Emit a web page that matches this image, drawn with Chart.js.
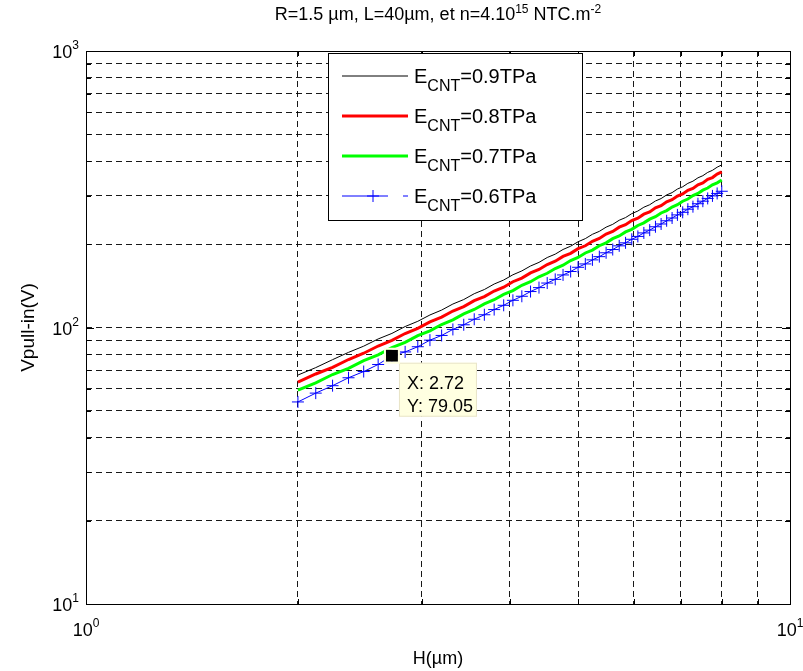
<!DOCTYPE html>
<html>
<head>
<meta charset="utf-8">
<script src="https://cdn.jsdelivr.net/npm/chart.js@4.4.0/dist/chart.umd.min.js"></script>
<style>
    html, body { margin: 0; padding: 0; background: #fff; }
    #wrap { width: 803px; height: 671px; }
</style>
</head>
<body>
<div id="wrap"><canvas id="myChart" width="803" height="671"></canvas></div>
<script>
// H (µm), pas de 0.12
var hValues = [2.00, 2.12, 2.24, 2.36, 2.48, 2.60, 2.72, 2.84, 2.96, 3.08,
    3.20, 3.32, 3.44, 3.56, 3.68, 3.80, 3.92, 4.04, 4.16, 4.28,
    4.40, 4.52, 4.64, 4.76, 4.88, 5.00, 5.12, 5.24, 5.36, 5.48,
    5.60, 5.72, 5.84, 5.96, 6.08, 6.20, 6.32, 6.44, 6.56, 6.68,
    6.80, 6.92, 7.04, 7.16, 7.28, 7.40, 7.52, 7.64, 7.76, 7.88, 8.00];

var v09 = [67.3, 71.6, 76.5, 81.3, 85.6, 90.9, 95.2, 100.8, 105.3, 111.0,
    115.6, 121.6, 126.2, 132.5, 137.2, 143.6, 148.5, 155.1, 160.2, 166.9,
    172.0, 179.1, 184.2, 191.5, 196.8, 204.2, 209.6, 217.3, 222.7, 230.6,
    236.1, 244.3, 249.8, 258.1, 263.8, 272.3, 278.0, 286.8, 292.6, 301.6,
    307.5, 316.8, 322.8, 332.1, 338.2, 347.8, 354.0, 363.8, 370.2, 380.0, 387.4];

var v08 = [63.5, 67.9, 71.8, 76.6, 80.7, 85.7, 89.8, 95.1, 99.3, 104.8,
    109.0, 114.7, 119.0, 125.0, 129.4, 135.5, 139.9, 146.4, 150.9, 157.5,
    162.1, 169.0, 173.6, 180.8, 185.4, 192.8, 197.5, 205.1, 209.8, 217.7,
    222.5, 230.6, 235.3, 243.6, 248.5, 257.0, 261.9, 270.8, 275.7, 284.7,
    289.7, 299.0, 304.1, 313.4, 318.6, 328.3, 333.4, 343.4, 348.6, 358.6, 365.3];

var v07 = [59.4, 63.1, 67.6, 71.2, 75.9, 79.6, 84.5, 88.3, 93.4, 97.3,
    102.5, 106.6, 112.0, 116.2, 121.8, 126.0, 131.7, 136.0, 142.1, 146.4,
    152.6, 157.1, 163.4, 168.0, 174.6, 179.2, 186.0, 190.6, 197.6, 202.4,
    209.6, 214.3, 221.6, 226.4, 233.9, 239.0, 246.6, 251.6, 259.5, 264.7,
    272.7, 278.0, 286.2, 291.5, 299.9, 305.4, 313.9, 319.4, 328.2, 333.7, 341.7];

var v06 = [53.8, 57.9, 61.6, 65.8, 69.3, 73.5, 79.05, 81.6, 85.2, 90.0,
    93.6, 98.4, 102.3, 107.1, 111.2, 116.1, 120.3, 125.4, 129.7, 134.9,
    139.4, 144.8, 149.3, 154.9, 159.4, 165.1, 169.8, 175.6, 180.4, 186.3,
    191.4, 197.4, 202.4, 208.5, 213.5, 219.8, 225.0, 231.4, 236.8, 243.2,
    248.9, 255.4, 261.0, 267.8, 273.5, 280.3, 286.3, 293.0, 299.2, 305.4, 311.0];

var xTicks = [1, 2, 3, 4, 5, 6, 7, 8, 9, 10];
var yTicks = [10, 20, 30, 40, 50, 60, 70, 80, 90,
    100, 200, 300, 400, 500, 600, 700, 800, 900, 1000];

var legendValues = ['0.9', '0.8', '0.7', '0.6'];
var tipIndex = 6; // point marqué sur la courbe 0.6TPa

var FONT = '"Liberation Sans", Arial, sans-serif';

function pts(ys) {
    return hValues.map(function (h, i) { return {x: h, y: ys[i]}; });
}

// texte avec exposants / indices : parts = [[texte, taille, decalage], ...]
function rich(ctx, parts, x, y, align) {
    var total = 0;
    parts.forEach(function (p) {
        ctx.font = p[1] + 'px ' + FONT;
        total += ctx.measureText(p[0]).width;
    });
    var cx = x;
    if (align === 'center') cx = x - total / 2;
    if (align === 'right') cx = x - total;
    ctx.textAlign = 'left';
    ctx.textBaseline = 'alphabetic';
    parts.forEach(function (p) {
        ctx.font = p[1] + 'px ' + FONT;
        ctx.fillText(p[0], cx, y + p[2]);
        cx += ctx.measureText(p[0]).width;
    });
}

function isPow10(v) {
    var l = Math.log10(v);
    return Math.abs(l - Math.round(l)) < 1e-9;
}

var decor = {
    id: 'decor',
    afterDraw: function (chart) {
        var ctx = chart.ctx;
        var a = chart.chartArea;
        var xs = chart.scales.x, ys = chart.scales.y;
        ctx.save();
        ctx.fillStyle = '#000';
        ctx.strokeStyle = '#000';
        ctx.lineWidth = 1;

        // ticks vers l'interieur, sur les 4 cotes
        ctx.beginPath();
        xs.ticks.forEach(function (t) {
            var px = Math.round(xs.getPixelForValue(t.value)) + 0.5;
            var len = isPow10(t.value) ? 8 : 5;
            ctx.moveTo(px, a.bottom); ctx.lineTo(px, a.bottom - len);
            ctx.moveTo(px, a.top); ctx.lineTo(px, a.top + len);
        });
        ys.ticks.forEach(function (t) {
            var py = Math.round(ys.getPixelForValue(t.value)) + 0.5;
            var len = isPow10(t.value) ? 8 : 5;
            ctx.moveTo(a.left, py); ctx.lineTo(a.left + len, py);
            ctx.moveTo(a.right, py); ctx.lineTo(a.right - len, py);
        });
        ctx.stroke();
        ctx.strokeRect(a.left + 0.5, a.top + 0.5, a.right - a.left, a.bottom - a.top);

        // etiquettes 10^n
        xs.ticks.forEach(function (t) {
            if (!isPow10(t.value)) return;
            var e = String(Math.round(Math.log10(t.value)));
            rich(ctx, [['10', 18, 0], [e, 12, -9]], xs.getPixelForValue(t.value), 636, 'center');
        });
        ys.ticks.forEach(function (t) {
            if (!isPow10(t.value)) return;
            var e = String(Math.round(Math.log10(t.value)));
            rich(ctx, [['10', 18, 0], [e, 12, -9]], 79, ys.getPixelForValue(t.value) + 7, 'right');
        });

        // titre et axes
        var cx = (a.left + a.right) / 2;
        rich(ctx, [['R=1.5 \u00b5m, L=40\u00b5m, et n=4.10', 18, 0], ['15', 12, -7],
            [' NTC.m', 18, 0], ['-2', 12, -7]], cx, 20, 'center');
        rich(ctx, [['H(\u00b5m)', 18, 0]], cx, 664, 'center');
        ctx.save();
        ctx.translate(34, (a.top + a.bottom) / 2);
        ctx.rotate(-Math.PI / 2);
        rich(ctx, [['Vpull-in(V)', 19, 0]], 0, 0, 'center');
        ctx.restore();

        // legende
        var lx = 328, ly = 53, lw = 254, lh = 167;
        ctx.fillStyle = '#fff';
        ctx.fillRect(lx, ly, lw, lh);
        ctx.strokeStyle = '#000';
        ctx.lineWidth = 1;
        ctx.strokeRect(lx + 0.5, ly + 0.5, lw, lh);
        var rowsY = [76, 116, 156, 196];
        chart.data.datasets.forEach(function (ds, i) {
            var y = rowsY[i];
            ctx.strokeStyle = ds.borderColor;
            ctx.lineWidth = ds.borderWidth;
            ctx.beginPath();
            if (ds.pointRadius > 0) {
                ctx.moveTo(342, y); ctx.lineTo(388, y);
                ctx.moveTo(403, y); ctx.lineTo(408, y);
                ctx.moveTo(373 - 6, y); ctx.lineTo(373 + 6, y);
                ctx.moveTo(373, y - 6); ctx.lineTo(373, y + 6);
            } else {
                ctx.moveTo(342, y); ctx.lineTo(408, y);
            }
            ctx.stroke();
            ctx.fillStyle = '#000';
            rich(ctx, [['E', 20, 0], ['CNT', 16, 8], ['=' + legendValues[i] + 'TPa', 20, 0]], 414, y + 7, 'left');
        });

        // data tip
        var tx = xs.getPixelForValue(hValues[tipIndex]);
        var ty = ys.getPixelForValue(v06[tipIndex]);
        ctx.fillStyle = '#ffffe1';
        ctx.fillRect(tx + 7, ty + 7, 78, 54);
        ctx.strokeStyle = '#e8e4c8';
        ctx.lineWidth = 1;
        ctx.strokeRect(tx + 7.5, ty + 7.5, 77, 53);
        ctx.fillStyle = '#000';
        ctx.fillRect(tx - 6, ty - 6, 12, 12);
        ctx.strokeStyle = '#ffffe1';
        ctx.lineWidth = 2;
        ctx.strokeRect(tx - 7, ty - 7, 14, 14);
        ctx.fillStyle = '#000';
        rich(ctx, [['X: ' + hValues[tipIndex].toFixed(2), 18, 0]], tx + 15, ty + 33, 'left');
        rich(ctx, [['Y: ' + v06[tipIndex].toFixed(2), 18, 0]], tx + 15, ty + 56, 'left');
        ctx.restore();
    }
};

function setTicks(values) {
    return function (scale) {
        scale.ticks = values.map(function (v) { return {value: v, major: isPow10(v)}; });
    };
}

var gridOpts = {color: 'rgba(0,0,0,0.9)', lineWidth: 1, drawTicks: false};
var ctx = document.getElementById('myChart').getContext('2d');
var myChart = new Chart(ctx, {
    type: 'line',
    data: {
        datasets: [
            {label: 'E=0.9TPa', data: pts(v09), borderColor: '#000000', borderWidth: 1, pointRadius: 0, order: 4},
            {label: 'E=0.8TPa', data: pts(v08), borderColor: '#ff0000', borderWidth: 3, pointRadius: 0, order: 3},
            {label: 'E=0.7TPa', data: pts(v07), borderColor: '#00ff00', borderWidth: 3, pointRadius: 0, order: 2},
            {label: 'E=0.6TPa', data: pts(v06), borderColor: '#0000ff', borderWidth: 1,
                pointStyle: 'cross', pointRadius: 6, pointBorderWidth: 1, pointBorderColor: '#0000ff', order: 1}
        ]
    },
    options: {
        responsive: false,
        animation: false,
        devicePixelRatio: 1,
        layout: {padding: {left: 86, right: 13, top: 51, bottom: 67}},
        elements: {line: {tension: 0, fill: false}},
        scales: {
            x: {
                type: 'logarithmic', min: 1, max: 10,
                afterBuildTicks: setTicks(xTicks),
                grid: gridOpts,
                border: {display: false, dash: [6, 4]},
                ticks: {display: false, autoSkip: false}
            },
            y: {
                type: 'logarithmic', min: 10, max: 1000,
                afterBuildTicks: setTicks(yTicks),
                grid: gridOpts,
                border: {display: false, dash: [6, 4]},
                ticks: {display: false, autoSkip: false}
            }
        },
        plugins: {
            legend: {display: false},
            tooltip: {enabled: false}
        }
    },
    plugins: [decor]
});
</script>
</body>
</html>
